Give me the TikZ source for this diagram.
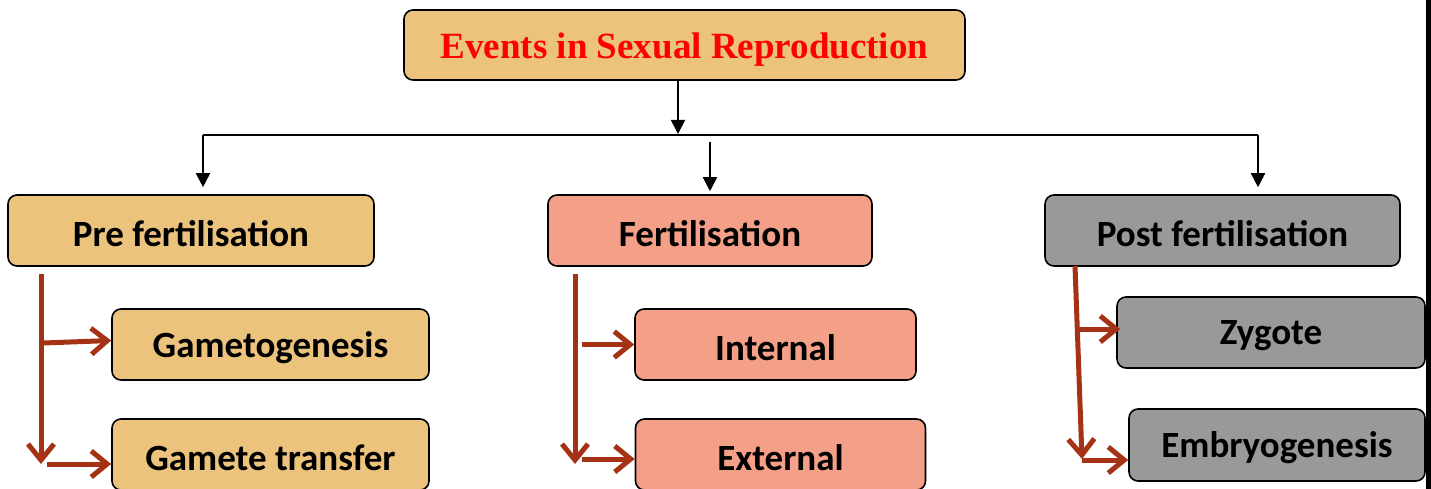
\documentclass[tikz,border=0pt]{standalone}
\usepackage{fontspec}
\newfontfamily\carl{Carlito}
\newfontfamily\tnr{Liberation Serif}
\usetikzlibrary{arrows.meta}
\definecolor{tan}{RGB}{235,195,125}
\definecolor{salmon}{RGB}{244,160,136}
\definecolor{grayb}{RGB}{153,153,153}
\definecolor{brn}{RGB}{165,50,20}
\definecolor{titlered}{RGB}{255,0,0}
\newcommand\lowr[2][3pt]{\raisebox{-#1}[\height][\depth]{#2}}
\begin{document}
\begin{tikzpicture}[x=1pt,y=-1pt,
  box/.style={draw=black,line width=1.6pt,rounded corners=9pt,inner sep=0pt,minimum height=71pt,
    font=\carl\bfseries\fontsize{37}{42}\selectfont,text=black},
  blk/.style={draw=black,line width=1.8pt,-{Triangle[length=14pt,width=14pt]}},
  brw/.style={draw=brn,line width=5pt,-{Straight Barb[length=16pt,width=26pt,line width=5pt]}}
]
\useasboundingbox (0,0) rectangle (1431,489);
\fill[black] (1426,0) rectangle (1431,489);
% top
\node[box,fill=tan,minimum width=561pt,minimum height=70pt,font=\tnr\bfseries\fontsize{37}{42}\selectfont,text=titlered] (top) at (684.5,45) {\lowr[5pt]{Events in Sexual Reproduction}};
% level 1
\node[box,fill=tan,minimum width=366pt] (pre) at (191,230.5) {\lowr{Pre fertilisation}};
\node[box,fill=salmon,minimum width=324pt] (fert) at (710,230.5) {\lowr{Fertilisation}};
\node[box,fill=grayb,minimum width=355pt] (post) at (1222.5,230.5) {\lowr{Post fertilisation}};
% level 2
\node[box,fill=tan,minimum width=317pt] (game) at (270.5,344.5) {\lowr{Gametogenesis}};
\node[box,fill=tan,minimum width=317pt] (gt) at (270.5,454.5) {\lowr{Gamete transfer}};
\node[box,fill=salmon,minimum width=281pt] (int) at (775.5,344.5) {\lowr{Internal}};
\node[box,fill=salmon,minimum width=290pt] (ext) at (780.5,454.5) {\lowr{External}};
\node[box,fill=grayb,minimum width=308pt] (zyg) at (1271,332.5) {\lowr{Zygote}};
\node[box,fill=grayb,minimum width=296pt,minimum height=72pt] (emb) at (1277,445) {\lowr{Embryogenesis}};
% black connectors
\coordinate (hl) at (203,135);
\coordinate (hr) at (1258,135);
\coordinate (j) at (678,135);
\coordinate (m) at (710,142);
\draw[black,line width=1.8pt] (hl) -- (hr);
\draw[blk,shorten >=1pt] (top.south -| j) -- (j);
\draw[blk,shorten >=7pt] (hl) -- (hl |- pre.north);
\draw[blk,shorten >=3pt] (m) -- (fert.north);
\draw[blk,shorten >=7pt] (hr) -- (hr |- post.north);
% brown connectors: pre
\coordinate (p1) at (41,274);
\coordinate (p2) at (41,464);
\coordinate (pa) at (43,343);
\coordinate (pb) at (47,464);
\draw[brw] (p1) -- (p2);
\draw[brw] (pa) -- ([yshift=4pt]game.west);
\draw[brw] (pb) -- ([yshift=-9.5pt]gt.west);
% fert
\coordinate (f1) at (575,274);
\coordinate (f2) at (575,464);
\coordinate (fa) at (582,344.5);
\coordinate (fb) at (582,459);
\draw[brw] (f1) -- (f2);
\draw[brw] (fa) -- (int.west);
\draw[brw] (fb) -- ([yshift=-4.5pt]ext.west);
% post
\coordinate (q1) at (1075,266);
\coordinate (q2) at (1082,459);
\coordinate (qa) at (1079,329);
\coordinate (qb) at (1082,460);
\draw[brw] (q1) -- (q2);
\draw[brw,shorten >=-4pt] (qa) -- ([yshift=3.5pt]zyg.west);
\draw[brw] (qb) -- ([yshift=-15pt]emb.west);
\end{tikzpicture}
\end{document}
